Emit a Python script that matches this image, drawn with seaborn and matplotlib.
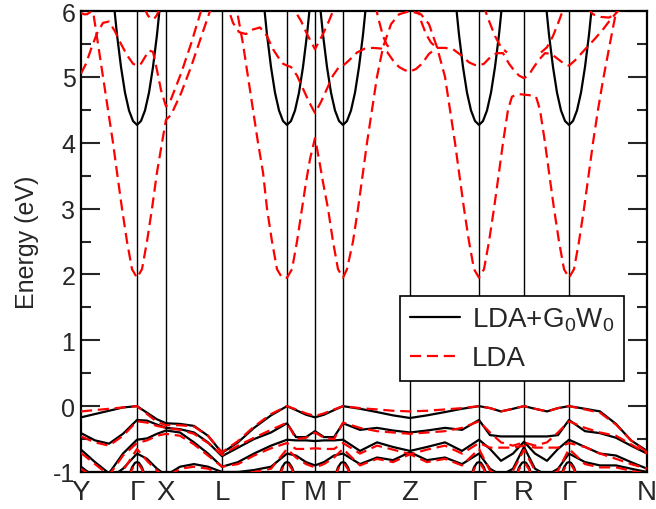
import numpy as np
import pandas as pd
import matplotlib
matplotlib.use("Agg")
import matplotlib.pyplot as plt
from matplotlib.lines import Line2D
import seaborn as sns

# ---------------- data ----------------
sym_labels = ["Y", "Γ", "X", "L", "Γ", "M", "Γ", "Z", "Γ", "R", "Γ", "N"]
sym_k = [0, 56, 85, 141, 206, 234, 262, 329, 398, 443, 488, 566]
gamma_k = [56, 206, 262, 398, 488]

# common k grid for valence bands
kv = [0, 14, 28, 42, 56, 66, 76, 85, 99, 113, 127, 141, 157, 173, 190, 206,
      215, 225, 234, 243, 253, 262, 279, 296, 312, 329, 346, 364, 381, 398,
      409, 420, 432, 443, 454, 466, 477, 488, 504, 519, 535, 550, 566]

gw_v1 = [-0.17, -0.12, -0.07, -0.02, 0.00, -0.10, -0.20, -0.26, -0.27, -0.30, -0.45, -0.71,
         -0.55, -0.33, -0.14, 0.00, -0.06, -0.13, -0.17, -0.13, -0.06, 0.00,
         -0.04, -0.09, -0.14, -0.18, -0.14, -0.09, -0.04, 0.00,
         -0.03, -0.08, -0.04, 0.00, -0.04, -0.08, -0.03, 0.00,
         -0.04, -0.08, -0.27, -0.52, -0.68]
gw_v2 = [-0.41, -0.52, -0.57, -0.42, -0.21, -0.22, -0.28, -0.33, -0.35, -0.40, -0.55, -0.76,
         -0.63, -0.50, -0.40, -0.26, -0.47, -0.47, -0.38, -0.47, -0.47, -0.26,
         -0.36, -0.33, -0.37, -0.40, -0.37, -0.33, -0.36, -0.21,
         -0.44, -0.46, -0.46, -0.46, -0.46, -0.46, -0.44, -0.21,
         -0.38, -0.41, -0.48, -0.60, -0.72]
gw_v3 = [-0.66, -0.85, -1.02, -0.72, -0.51, -0.49, -0.42, -0.37, -0.40, -0.55, -0.72, -0.92,
         -0.85, -0.72, -0.60, -0.51, -0.52, -0.52, -0.53, -0.52, -0.52, -0.51,
         -0.68, -0.55, -0.62, -0.68, -0.62, -0.55, -0.68, -0.51,
         -0.65, -0.83, -0.72, -0.54, -0.72, -0.83, -0.65, -0.51,
         -0.62, -0.72, -0.75, -0.85, -0.95]
gw_v4 = [-0.92, -1.08, -1.10, -0.95, -0.72, -0.80, -0.95, -1.05, -0.92, -0.88, -0.92, -1.00,
         -1.00, -0.97, -0.92, -0.72, -0.75, -0.85, -0.90, -0.85, -0.75, -0.72,
         -0.88, -0.78, -0.82, -0.70, -0.82, -0.78, -0.88, -0.72,
         -0.95, -1.05, -0.95, -0.62, -0.95, -1.05, -0.95, -0.72,
         -0.85, -0.90, -0.90, -0.95, -1.00]

ld_v1 = [-0.08, -0.06, -0.04, -0.02, 0.00, -0.12, -0.24, -0.29, -0.29, -0.31, -0.45, -0.70,
         -0.53, -0.31, -0.12, 0.00, -0.05, -0.11, -0.15, -0.11, -0.05, 0.00,
         -0.03, -0.05, -0.07, -0.08, -0.07, -0.05, -0.03, 0.00,
         -0.03, -0.08, -0.04, 0.00, -0.04, -0.08, -0.03, 0.00,
         -0.05, -0.10, -0.28, -0.52, -0.70]
ld_v2 = [-0.46, -0.55, -0.60, -0.45, -0.23, -0.25, -0.30, -0.33, -0.36, -0.42, -0.56, -0.74,
         -0.60, -0.48, -0.36, -0.25, -0.50, -0.48, -0.40, -0.48, -0.50, -0.25,
         -0.33, -0.38, -0.40, -0.42, -0.40, -0.38, -0.33, -0.23,
         -0.40, -0.55, -0.60, -0.55, -0.60, -0.55, -0.40, -0.23,
         -0.33, -0.40, -0.45, -0.58, -0.72]
ld_v3 = [-0.71, -0.88, -1.05, -0.75, -0.56, -0.52, -0.45, -0.42, -0.45, -0.58, -0.75, -0.92,
         -0.88, -0.75, -0.64, -0.56, -0.65, -0.65, -0.64, -0.65, -0.65, -0.56,
         -0.72, -0.60, -0.66, -0.73, -0.66, -0.60, -0.72, -0.56,
         -0.63, -0.63, -0.63, -0.60, -0.63, -0.63, -0.63, -0.56,
         -0.62, -0.72, -0.80, -0.88, -0.95]
ld_v4 = [-0.95, -1.10, -1.12, -0.98, -0.65, -0.83, -0.98, -1.08, -0.95, -0.92, -0.95, -1.03,
         -1.03, -1.00, -0.95, -0.65, -0.78, -0.88, -0.93, -0.88, -0.78, -0.65,
         -0.90, -0.80, -0.85, -0.73, -0.85, -0.80, -0.90, -0.65,
         -0.98, -1.08, -0.98, -0.66, -0.98, -1.08, -0.98, -0.65,
         -0.88, -0.93, -0.93, -0.98, -1.03]

# small cap-shaped bands just below -0.8 at Gamma / R
arc_dk = [-8, -5, -2, 0, 2, 5, 8]
gw_arc_e = [-1.06, -0.93, -0.86, -0.85, -0.86, -0.93, -1.06]
ld_arc_e = [-1.08, -0.96, -0.89, -0.88, -0.89, -0.96, -1.08]
arc_k = [56, 206, 262, 398, 443, 488]

# GW conduction band (same parabola at every Gamma)
gw_c_dk = [-24, -20, -16, -12, -8, -4, 0, 4, 8, 12, 16, 20, 24]
gw_c_e = [6.24, 5.64, 5.15, 4.76, 4.49, 4.33, 4.27, 4.33, 4.49, 4.76, 5.15, 5.64, 6.24]

# LDA conduction bands
ldA_k = [8, 12, 22, 27, 32, 36, 41, 46, 51, 56, 61, 66, 71, 76, 81, 85,
         90, 100, 110, 120, 129, 136,
         150, 156, 162, 167, 172, 177, 182, 186, 191, 196, 201, 206,
         211, 216, 221, 225, 229, 234, 238, 242, 247, 252, 257, 262,
         266, 272, 277, 282, 286, 291, 296, 302, 310, 318, 329,
         340, 348, 356, 364, 369, 374, 378, 383, 388, 393, 398,
         403, 408, 413, 418, 422, 427, 431, 437, 443, 449, 455, 459, 464, 468, 473, 478, 483, 488,
         493, 498, 503, 508, 512, 517, 522, 527, 532, 536]
ldA_e = [6.4, 6.0, 5.0, 4.5, 4.0, 3.55, 3.0, 2.5, 2.08, 1.95, 2.08, 2.5, 3.0, 3.55, 4.0, 4.35,
         4.42, 4.75, 5.15, 5.6, 6.0, 6.3,
         6.5, 6.0, 5.5, 5.0, 4.5, 4.0, 3.55, 3.0, 2.5, 2.08, 1.95, 1.95,
         2.08, 2.5, 3.0, 3.4, 3.75, 4.07, 3.75, 3.4, 3.0, 2.5, 2.08, 1.95,
         2.08, 2.5, 3.0, 3.55, 4.0, 4.5, 5.0, 5.45, 5.8, 5.95, 6.0,
         5.95, 5.8, 5.45, 5.0, 4.5, 4.0, 3.55, 3.0, 2.5, 2.08, 1.95,
         2.08, 2.5, 3.0, 3.55, 4.0, 4.5, 4.7, 4.74, 4.73, 4.72, 4.7, 4.5, 4.0, 3.55, 3.0, 2.5, 2.08, 1.95,
         2.08, 2.5, 3.0, 3.55, 4.0, 4.5, 4.95, 5.35, 5.75, 6.05]

ldB_k = [0, 5, 10, 16, 22, 28, 34, 40, 46, 52, 56, 60, 64, 68, 72, 76, 80, 85,
         90, 100, 110, 118, 124,
         144, 148, 152, 158, 165, 172, 179, 186, 192, 198, 202, 206,
         210, 216, 222, 228, 234, 240, 246, 252, 258, 262,
         268, 276, 284, 292, 300, 306, 312, 318, 324, 329,
         335, 341, 348, 356, 364, 372, 380, 388, 394, 398,
         403, 410, 416, 422, 428, 434, 438, 443,
         448, 452, 458, 464, 470, 477, 483, 488,
         494, 500, 506, 514, 522, 530, 537, 542]
ldB_e = [5.05, 5.2, 5.42, 5.66, 5.82, 5.84, 5.69, 5.5, 5.33, 5.2, 5.17, 5.2, 5.3, 5.4, 5.38, 5.1, 4.8, 4.55,
         4.66, 5.05, 5.5, 5.9, 6.2,
         6.2, 6.0, 5.82, 5.68, 5.65, 5.72, 5.75, 5.62, 5.42, 5.28, 5.2, 5.17,
         5.15, 5.02, 4.82, 4.62, 4.45, 4.62, 4.82, 5.02, 5.15, 5.17,
         5.25, 5.37, 5.43, 5.44, 5.43, 5.38, 5.25, 5.15, 5.1, 5.08,
         5.12, 5.2, 5.35, 5.44, 5.44, 5.42, 5.33, 5.22, 5.18, 5.17,
         5.2, 5.31, 5.36, 5.36, 5.2, 5.08, 5.02, 4.98,
         5.03, 5.13, 5.26, 5.36, 5.35, 5.27, 5.2, 5.17,
         5.25, 5.35, 5.45, 5.58, 5.72, 5.88, 6.0, 6.1]

ldC_k = [210, 214, 220, 226, 234, 242, 248, 252, 256]
ldC_e = [6.2, 6.0, 5.85, 5.65, 5.42, 5.65, 5.85, 6.0, 6.2]

ldD_k = [294, 298, 302, 306, 310]
ldD_e = [6.1, 5.85, 5.62, 5.48, 5.43]
ldD2_k = [336, 340, 345, 350, 356]
ldD2_e = [6.1, 5.85, 5.65, 5.52, 5.44]

ldE_k = [402, 408, 414, 420, 426]
ldE_e = [6.1, 5.85, 5.62, 5.45, 5.37]
ldE2_k = [460, 466, 472, 478, 484]
ldE2_e = [5.37, 5.45, 5.62, 5.85, 6.1]

ldF_k = [506, 512, 520, 528, 534, 538]
ldF_e = [6.05, 5.95, 5.91, 5.9, 5.95, 6.05]
ldH_k = [63, 67, 70, 73, 76, 79]
ldH_e = [6.05, 5.93, 5.88, 5.88, 5.94, 6.05]
ldY_k = [0, 3, 6, 9, 12]
ldY_e = [5.97, 5.95, 5.95, 5.98, 6.05]

# ---------------- assemble ----------------
rows = []
def add(method, name, ks, es):
    for k, e in zip(ks, es):
        rows.append((method, name, k, e))

for i, b in enumerate([gw_v1, gw_v2, gw_v3, gw_v4]):
    add("GW", f"gwv{i}", kv, b)
for g in gamma_k:
    add("GW", f"gwc{g}", [g + d for d in gw_c_dk], gw_c_e)
for g in arc_k:
    add("GW", f"gwa{g}", [g + d for d in arc_dk], gw_arc_e)

for i, b in enumerate([ld_v1, ld_v2, ld_v3, ld_v4]):
    add("LDA", f"ldv{i}", kv, b)
for g in arc_k:
    add("LDA", f"lda{g}", [g + d for d in arc_dk], ld_arc_e)
for name, ks, es in [("A", ldA_k, ldA_e), ("B", ldB_k, ldB_e), ("C", ldC_k, ldC_e),
                     ("D", ldD_k, ldD_e), ("D2", ldD2_k, ldD2_e), ("E", ldE_k, ldE_e),
                     ("E2", ldE2_k, ldE2_e), ("F", ldF_k, ldF_e), ("H", ldH_k, ldH_e),
                     ("Yb", ldY_k, ldY_e)]:
    add("LDA", "ldc" + name, ks, es)

df = pd.DataFrame(rows, columns=["method", "band", "k", "E"])

# ---------------- plot ----------------
sns.set_theme(style="white")
plt.rcParams["font.family"] = ["Liberation Sans", "DejaVu Sans"]
plt.rcParams["mathtext.fontset"] = "custom"
plt.rcParams["mathtext.rm"] = "Liberation Sans"
plt.rcParams["mathtext.it"] = "Liberation Sans:italic"

fig = plt.figure(figsize=(6.56, 5.10), dpi=100)
ax = fig.add_axes([81 / 656, 1 - 473 / 510, 566 / 656, 461 / 510])

for k in sym_k[1:-1]:
    ax.axvline(k, color="black", lw=1.0, zorder=1)

sns.lineplot(data=df[df.method == "GW"], x="k", y="E", units="band", estimator=None,
             sort=False, color="black", lw=1.6, ax=ax, legend=False, zorder=2)
sns.lineplot(data=df[df.method == "LDA"], x="k", y="E", units="band", estimator=None,
             sort=False, color="red", lw=1.6, ax=ax, legend=False, zorder=3,
             linestyle=(0, (5, 2.6)))

ax.set_xlim(0, 566)
ax.set_ylim(-1, 6)
ax.set_xticks(sym_k)
ax.set_xticklabels(sym_labels, fontsize=20)
ax.set_yticks(range(-1, 7))
ax.set_yticklabels([str(v) for v in range(-1, 7)], fontsize=18)
ax.set_yticks(np.arange(-0.5, 6, 1.0), minor=True)
ax.tick_params(axis="x", length=0, pad=5)
ax.tick_params(axis="y", which="major", direction="in", length=14, width=1.5,
               left=True, right=True, pad=4)
ax.tick_params(axis="y", which="minor", direction="in", length=7, width=1.5,
               left=True, right=True)
ax.set_xlabel("")
ax.set_ylabel("Energy (eV)", fontsize=18, labelpad=10)
for s in ax.spines.values():
    s.set_linewidth(1.6)
    s.set_color("black")
    s.set_visible(True)

handles = [Line2D([], [], color="black", lw=1.6),
           Line2D([], [], color="red", lw=1.6, linestyle=(0, (5, 2.6)))]
leg = ax.legend(handles, ["LDA+G$_0$W$_0$", "LDA"], loc="upper left",
                bbox_to_anchor=(0.5636, 0.382), fontsize=20, frameon=True,
                fancybox=False, edgecolor="black", framealpha=1,
                handlelength=1.8, borderpad=0.35, labelspacing=0.44,
                handletextpad=0.45, borderaxespad=0)
leg.get_frame().set_linewidth(1.2)

fig.savefig("out.png", dpi=100)
